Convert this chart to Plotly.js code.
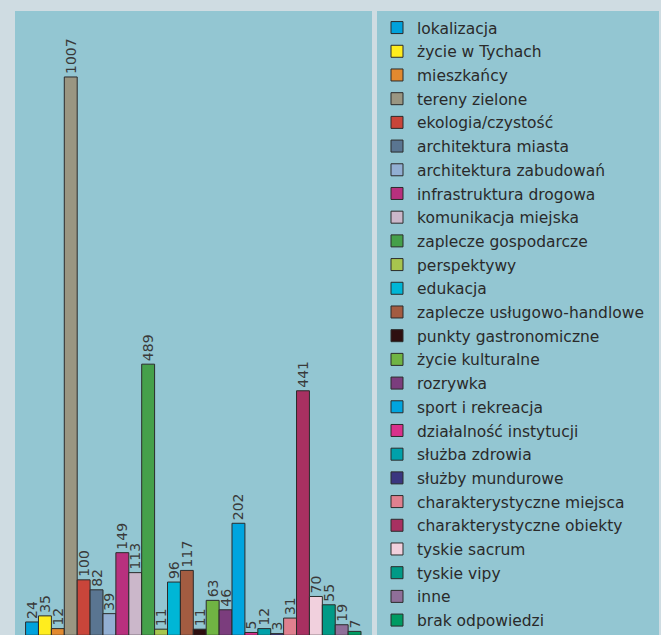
<!DOCTYPE html>
<html>
<head>
<meta charset="utf-8">
<script src="https://cdn.plot.ly/plotly-3.0.1.min.js"></script>
<style>html,body{margin:0;padding:0;background:#cfdce2;}</style>
</head>
<body>
<div id="chart" style="width:661px;height:635px;"></div>
<script>
const categories = [
  "lokalizacja", "życie w Tychach", "mieszkańcy", "tereny zielone", "ekologia/czystość",
  "architektura miasta", "architektura zabudowań", "infrastruktura drogowa", "komunikacja miejska",
  "zaplecze gospodarcze", "perspektywy", "edukacja", "zaplecze usługowo-handlowe",
  "punkty gastronomiczne", "życie kulturalne", "rozrywka", "sport i rekreacja",
  "działalność instytucji", "służba zdrowia", "służby mundurowe", "charakterystyczne miejsca",
  "charakterystyczne obiekty", "tyskie sacrum", "tyskie vipy", "inne", "brak odpowiedzi"
];
const values = [24, 35, 12, 1007, 100, 82, 39, 149, 113, 489, 11, 96, 117, 11, 63, 46, 202, 5, 12, 3, 31, 441, 70, 55, 19, 7];
const colors = [
  "#00a2dc", "#ffed1e", "#e2892f", "#9a9682", "#c9453a", "#5a7591", "#92afd3", "#b8307e",
  "#cbb7ca", "#45a04a", "#a7c54e", "#00b6d6", "#a35c41", "#2e0f10", "#70b443", "#7b3d7d",
  "#00a5df", "#d9318b", "#00a1aa", "#3a3680", "#e0808f", "#a83061", "#f1d0dd", "#009a86",
  "#8f6f99", "#009b62"
];

const W = 661, H = 635;
const plotL = 15, plotR = 372, plotT = 11, plotB = 635;
const pw = plotR - plotL, ph = plotB - plotT;
const px2paperX = p => (p - plotL) / pw;

const traces = categories.map((c, i) => ({
  type: "bar",
  name: c,
  legendgroup: "g" + i,
  x: [c],
  y: [values[i]],
  width: [1],
  marker: {color: colors[i], line: {color: "#2b2b2b", width: 1}},
  text: [String(values[i])],
  textposition: "outside",
  textangle: -90,
  constraintext: "none",
  cliponaxis: false,
  textfont: {family: "DejaVu Sans", size: 14, color: "#3a3a3a"},
  hoverinfo: "name+y"
}));

const layout = {
  width: W, height: H,
  paper_bgcolor: "#cfdce2",
  plot_bgcolor: "#93c6d2",
  margin: {l: plotL, r: W - plotR, t: plotT, b: H - plotB, pad: 0},
  barmode: "overlay",
  bargap: 0,
  showlegend: true,
  xaxis: {
    type: "category", categoryorder: "array", categoryarray: categories,
    range: [-1.32, 26.35], showticklabels: false, showgrid: false, zeroline: false,
    showline: false, ticks: "", fixedrange: true
  },
  yaxis: {
    range: [0.5, 1126], showticklabels: false, showgrid: false, zeroline: false,
    showline: false, ticks: "", fixedrange: true
  },
  legend: {
    x: px2paperX(377), xanchor: "left", y: 1 - 1.5 / ph, yanchor: "top",
    bgcolor: "rgba(0,0,0,0)", borderwidth: 0,
    font: {family: "DejaVu Sans", size: 15.5, color: "#2a2a2a"},
    tracegroupgap: 0.55,
    traceorder: "grouped"
  },
  shapes: [{
    type: "rect", xref: "paper", yref: "paper",
    x0: px2paperX(377), x1: px2paperX(659), y0: -0.02, y1: 1,
    fillcolor: "#93c6d2", line: {width: 0}, layer: "below"
  }]
};

Plotly.newPlot("chart", traces, layout, {displayModeBar: false, staticPlot: true});
</script>
</body>
</html>
